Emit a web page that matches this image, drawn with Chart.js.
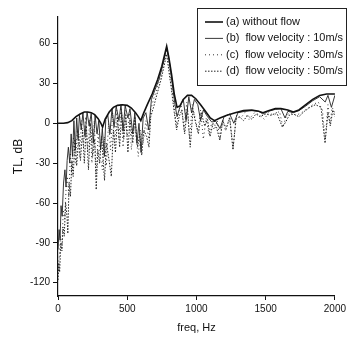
<!DOCTYPE html>
<html>
<head>
<meta charset="utf-8">
<script src="https://cdn.jsdelivr.net/npm/chart.js@4.4.1/dist/chart.umd.min.js"></script>
<style>
  body { margin: 0; background: #fff; }
  canvas { display: block; }
</style>
</head>
<body>
<canvas id="tlChart" width="349" height="340"></canvas>
<script>
// TL curves

// (a) without flow
const freqA = [0, 40, 70, 100, 130, 160, 190, 215, 240, 265, 290, 310, 322, 340, 370, 400, 430, 465, 500, 530, 560, 580, 598, 620, 645, 680, 720, 750, 785, 800, 820, 840, 860, 880, 905, 935, 965, 995, 1030, 1065, 1100, 1130, 1170, 1220, 1280, 1340, 1400, 1450, 1480, 1520, 1570, 1610, 1660, 1700, 1740, 1790, 1840, 1890, 1940, 2000];
const tlA = [0, 0, 0.5, 2, 5, 7, 8.5, 8.5, 8, 6.5, 3.5, 0, -3, 3, 8.5, 12, 13.5, 14, 13.5, 11.5, 8, 5, 2, 8, 14, 22, 33, 43, 58, 50, 37, 22, 12, 13, 18, 21, 21, 18.5, 14, 9, 4, 2, 4, 6, 8, 9.5, 10, 9, 8, 9.5, 11, 11, 10, 8.5, 10, 14, 18, 21, 22, 22];

// (b) flow velocity 10 m/s
const freqB = [0, 8, 15, 22, 30, 40, 50, 58, 66, 75, 85, 95, 105, 115, 125, 135, 145, 155, 168, 180, 195, 210, 225, 240, 255, 268, 282, 295, 308, 320, 335, 345, 360, 375, 390, 405, 420, 440, 455, 470, 485, 505, 520, 540, 555, 570, 585, 600, 615, 635, 655, 675, 700, 730, 760, 785, 805, 825, 845, 860, 880, 905, 925, 945, 965, 985, 1010, 1030, 1050, 1080, 1110, 1140, 1170, 1200, 1240, 1270, 1300, 1350, 1400, 1450, 1480, 1520, 1570, 1610, 1640, 1660, 1700, 1740, 1790, 1840, 1890, 1930, 1950, 1975, 2000];
const tlB = [-95, -80, -88, -62, -70, -45, -35, -48, -28, -18, -30, -8, -25, 2, -20, 4, -12, 6, -5, 8, -10, 8.5, -2, 7.5, -15, 6, -8, 2, -20, -4, -25, 3, 6, -8, 11, -3, 13, 2, 14, -6, 13.5, 4, 11, -8, 8, -15, 0, -22, 4, 8, -5, 18, 25, 33, 45, 57, 46, 30, 14, 5, 12, 18, 2, 20, 8, 18, 14, 2, 10, 5, 1, 1.5, -4, 5, 7, 0, 8, 9, 9.5, 9, 7, 9, 10.5, 11, 4, 9, 8, 9.5, 13, 17, 20, 16, 21, 12, 21];

// (c) flow velocity 30 m/s
const freqC = [0, 10, 18, 28, 38, 48, 58, 68, 78, 90, 100, 112, 125, 140, 155, 170, 185, 200, 215, 230, 245, 262, 276, 290, 305, 320, 335, 350, 365, 380, 395, 410, 425, 440, 455, 470, 485, 500, 515, 530, 548, 565, 580, 595, 615, 635, 655, 670, 690, 715, 745, 770, 785, 800, 820, 840, 855, 870, 890, 910, 930, 950, 970, 990, 1010, 1030, 1050, 1070, 1090, 1110, 1130, 1150, 1170, 1190, 1210, 1240, 1265, 1290, 1320, 1350, 1380, 1420, 1460, 1490, 1520, 1560, 1600, 1625, 1650, 1680, 1720, 1760, 1800, 1840, 1880, 1910, 1930, 1950, 1965, 1980, 2000];
const tlC = [-110, -100, -85, -95, -65, -72, -50, -40, -55, -22, -40, -10, -30, -5, -25, 2, -18, 5, -22, 3, -30, 2, -40, -8, -25, -35, -10, -32, 0, -20, 8, -15, 10, -12, 12, -18, 10, -10, 8, -20, 2, -12, -25, -5, -15, 2, -12, 10, 18, 26, 36, 48, 56, 45, 28, 12, -2, 8, 14, -5, 16, -12, 14, 4, -6, 10, -12, 4, -8, 0, -5, 2, -12, 3, -6, 5, -18, 6, 4, 8, 3, 8, 6, 3, 8, 6, 9, -3, 6, 8, 6, 8, 11, 14, 16, 10, -12, 14, 0, 12, 8];

// (d) flow velocity 50 m/s
const freqD = [0, 6, 12, 20, 28, 36, 45, 55, 65, 71, 80, 90, 100, 110, 122, 135, 150, 162, 178, 190, 205, 220, 235, 250, 265, 276, 288, 300, 315, 336, 350, 365, 385, 400, 415, 430, 445, 460, 475, 490, 505, 520, 540, 555, 575, 590, 605, 620, 640, 657, 670, 690, 715, 745, 770, 785, 800, 820, 840, 857, 875, 895, 915, 935, 955, 975, 995, 1014, 1035, 1060, 1080, 1098, 1120, 1145, 1169, 1190, 1215, 1240, 1264, 1285, 1310, 1340, 1370, 1400, 1430, 1460, 1500, 1540, 1580, 1621, 1645, 1670, 1700, 1740, 1780, 1820, 1860, 1900, 1929, 1950, 1967, 1985, 2000];
const tlD = [-118, -105, -112, -90, -96, -78, -85, -60, -70, -83, -45, -55, -28, -40, -12, -32, -8, -28, -5, -30, -2, -35, 0, -25, -12, -50, -20, -30, -10, -43, -15, -25, -40, -5, -22, 5, -18, 8, -12, 6, -22, 3, -15, 5, -18, -8, -24, -5, -10, -18, 5, 12, 22, 33, 45, 52, 40, 25, 8, -5, 5, 10, -8, 12, -18, 10, 0, -8, 8, -2, 3, -10, 0, -3, -13, 2, -4, 4, -20, 3, 5, 2, 6, 3, 7, 5, 7, 6, 8, -3, 1, 6, 7, 5, 9, 12, 14, 12, -15, 8, -2, 10, 5];

const seriesLabels = [
    '(a) without flow',
    '(b)  flow velocity : 10m/s',
    '(c)  flow velocity : 30m/s',
    '(d)  flow velocity : 50m/s',
];

const xTicks = [0, 500, 1000, 1500, 2000];
const yTicks = [-120, -90, -60, -30, 0, 30, 60];

function toPoints(fs, ts) {
    return fs.map((f, i) => ({ x: f, y: ts[i] }));
}

// boxed legend in the upper right corner, like the scan
const boxLegend = {
    id: 'boxLegend',
    afterDraw(chart) {
        const ctx = chart.ctx;
        ctx.save();
        ctx.strokeStyle = '#222';
        ctx.lineWidth = 1;
        ctx.strokeRect(197.5, 8.5, 149, 77);
        chart.data.datasets.forEach((ds, i) => {
            const y = 22 + i * 16.4;
            ctx.beginPath();
            ctx.setLineDash(ds.borderDash || []);
            ctx.lineWidth = ds.borderWidth;
            ctx.strokeStyle = ds.borderColor;
            ctx.moveTo(205, y);
            ctx.lineTo(223, y);
            ctx.stroke();
            ctx.setLineDash([]);
            ctx.fillStyle = '#111';
            ctx.font = '11px "Liberation Sans", Arial, sans-serif';
            ctx.textBaseline = 'middle';
            ctx.fillText(ds.label, 226, y, 117);
        });
        ctx.restore();
    }
};

const tlChart = document.querySelector('#tlChart');

new Chart(tlChart, {
    type: 'line',
    data: {
        datasets: [
            {
                label: seriesLabels[0],
                data: toPoints(freqA, tlA),
                borderColor: '#111',
                borderWidth: 1.6,
            },
            {
                label: seriesLabels[1],
                data: toPoints(freqB, tlB),
                borderColor: '#222',
                borderWidth: 0.9,
            },
            {
                label: seriesLabels[2],
                data: toPoints(freqC, tlC),
                borderColor: '#333',
                borderWidth: 1,
                borderDash: [1, 3],
            },
            {
                label: seriesLabels[3],
                data: toPoints(freqD, tlD),
                borderColor: '#222',
                borderWidth: 1,
                borderDash: [1.5, 1.5],
            }
        ]
    },
    options: {
        responsive: false,
        animation: false,
        devicePixelRatio: 1,
        layout: { padding: { top: 17, right: 10, left: 0, bottom: 0 } },
        elements: {
            point: { radius: 0 },
            line: { tension: 0, fill: false }
        },
        plugins: {
            legend: { display: false },
            tooltip: { enabled: false }
        },
        scales: {
            x: {
                type: 'linear',
                min: 0,
                max: 2000,
                afterFit: (scale) => { scale.height = 44; },
                afterBuildTicks: (scale) => { scale.ticks = xTicks.map(v => ({ value: v })); },
                grid: { drawOnChartArea: false, drawTicks: true, tickLength: 4, color: '#111' },
                border: { display: true, color: '#111', width: 1.2 },
                ticks: {
                    color: '#111',
                    padding: 3,
                    maxRotation: 0,
                    callback: (v) => String(v),
                    font: { family: '"Liberation Sans", Arial, sans-serif', size: 10 }
                },
                title: {
                    display: true,
                    text: 'freq, Hz',
                    color: '#111',
                    padding: { top: 0, bottom: 5 },
                    font: { family: '"Liberation Sans", Arial, sans-serif', size: 11 }
                }
            },
            y: {
                min: -130,
                max: 80,
                afterFit: (scale) => { scale.width = 58; },
                afterBuildTicks: (scale) => { scale.ticks = yTicks.map(v => ({ value: v })); },
                grid: { drawOnChartArea: false, drawTicks: true, tickLength: 5, color: '#111' },
                border: { display: true, color: '#111', width: 1.2 },
                ticks: {
                    color: '#111',
                    padding: 3,
                    callback: (v) => String(v),
                    font: { family: '"Liberation Sans", Arial, sans-serif', size: 10 }
                },
                title: {
                    display: true,
                    text: 'TL, dB',
                    color: '#111',
                    padding: { top: 11, bottom: 0 },
                    font: { family: '"Liberation Sans", Arial, sans-serif', size: 12 }
                }
            }
        }
    },
    plugins: [boxLegend]
});
</script>
</body>
</html>
